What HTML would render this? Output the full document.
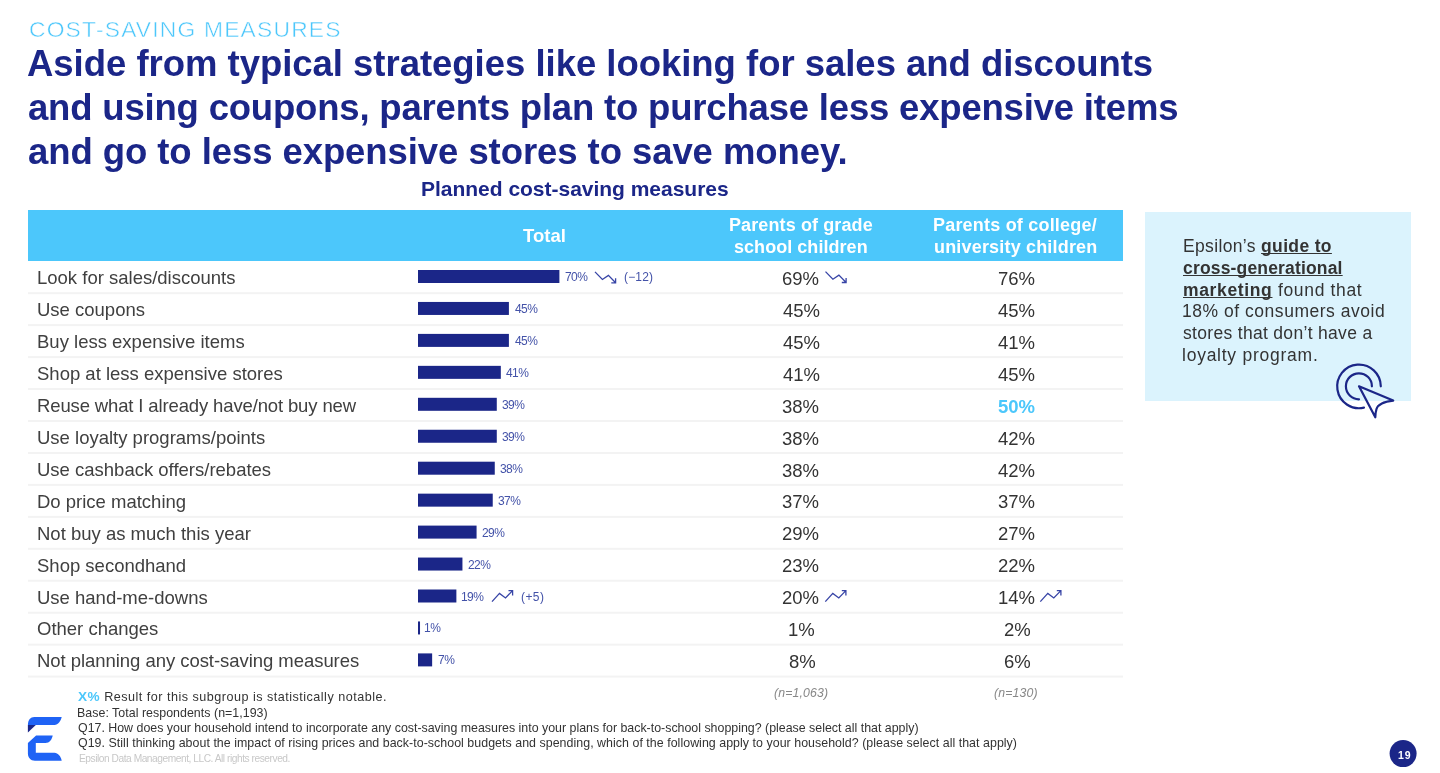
<!DOCTYPE html>
<html><head><meta charset="utf-8"><title>Cost-saving measures</title>
<style>
html,body{margin:0;padding:0;background:#fff;}
body{width:1440px;height:773px;position:relative;overflow:hidden;font-family:"Liberation Sans", sans-serif;}
.t{position:absolute;white-space:nowrap;will-change:transform;}
.t u{text-decoration-thickness:1.4px;text-underline-offset:0.7px;text-decoration-skip-ink:none;}
.bm{display:inline-block;width:0;height:0;vertical-align:baseline;}
svg{position:absolute;left:0;top:0;}
</style></head><body>
<div style="position:absolute;left:28px;top:210px;width:1095px;height:51px;background:#4cc7fb;"></div>
<div style="position:absolute;left:1145px;top:212px;width:266px;height:189px;background:#dbf3fd;"></div>
<svg width="1440" height="773" viewBox="0 0 1440 773">
<rect x="418" y="270.00" width="141.40" height="13" fill="#1b2688"/>
<rect x="418" y="301.95" width="90.90" height="13" fill="#1b2688"/>
<rect x="418" y="333.90" width="90.90" height="13" fill="#1b2688"/>
<rect x="418" y="365.85" width="82.82" height="13" fill="#1b2688"/>
<rect x="418" y="397.80" width="78.78" height="13" fill="#1b2688"/>
<rect x="418" y="429.75" width="78.78" height="13" fill="#1b2688"/>
<rect x="418" y="461.70" width="76.76" height="13" fill="#1b2688"/>
<rect x="418" y="493.65" width="74.74" height="13" fill="#1b2688"/>
<rect x="418" y="525.60" width="58.58" height="13" fill="#1b2688"/>
<rect x="418" y="557.55" width="44.44" height="13" fill="#1b2688"/>
<rect x="418" y="589.50" width="38.38" height="13" fill="#1b2688"/>
<rect x="418" y="621.45" width="2.02" height="13" fill="#1b2688"/>
<rect x="418" y="653.40" width="14.14" height="13" fill="#1b2688"/>
<rect x="28" y="292.20" width="1095" height="2" fill="#f3f3f3"/>
<rect x="28" y="324.15" width="1095" height="2" fill="#f3f3f3"/>
<rect x="28" y="356.10" width="1095" height="2" fill="#f3f3f3"/>
<rect x="28" y="388.05" width="1095" height="2" fill="#f3f3f3"/>
<rect x="28" y="420.00" width="1095" height="2" fill="#f3f3f3"/>
<rect x="28" y="451.95" width="1095" height="2" fill="#f3f3f3"/>
<rect x="28" y="483.90" width="1095" height="2" fill="#f3f3f3"/>
<rect x="28" y="515.85" width="1095" height="2" fill="#f3f3f3"/>
<rect x="28" y="547.80" width="1095" height="2" fill="#f3f3f3"/>
<rect x="28" y="579.75" width="1095" height="2" fill="#f3f3f3"/>
<rect x="28" y="611.70" width="1095" height="2" fill="#f3f3f3"/>
<rect x="28" y="643.65" width="1095" height="2" fill="#f3f3f3"/>
<rect x="28" y="675.60" width="1095" height="2" fill="#f3f3f3"/>
<path d="M595.00 271.90 L602.40 279.50 L608.40 275.40 L615.60 282.80 M615.60 278.20 L615.60 282.80 L611.30 282.80" fill="none" stroke="#3744a6" stroke-width="1.3"/><path d="M825.50 271.60 L832.90 279.20 L838.90 275.10 L846.10 282.50 M846.10 277.90 L846.10 282.50 L841.80 282.50" fill="none" stroke="#3744a6" stroke-width="1.3"/><path d="M492.00 601.60 L499.50 593.40 L505.50 598.00 L512.60 590.60 M508.50 590.60 L512.60 590.60 L512.60 595.60" fill="none" stroke="#3744a6" stroke-width="1.3"/><path d="M825.30 601.60 L832.80 593.40 L838.80 598.00 L845.90 590.60 M841.80 590.60 L845.90 590.60 L845.90 595.60" fill="none" stroke="#3744a6" stroke-width="1.3"/><path d="M1040.30 601.60 L1047.80 593.40 L1053.80 598.00 L1060.90 590.60 M1056.80 590.60 L1060.90 590.60 L1060.90 595.60" fill="none" stroke="#3744a6" stroke-width="1.3"/>

<path d="M34.3 717.1 L61.7 717.1 C60.8 721 58 725 54.5 725 L35.8 725 L27.9 725 C27.9 720 30.5 717.1 34.3 717.1 Z" fill="#1f63f5"/>
<path d="M27.9 725 L35.8 725 L27.9 732.6 Z" fill="#1b2688"/>
<path d="M36.1 735.5 L52.7 735.5 C52 739.5 49.5 743 45.5 743 L35.8 743 L35.8 752.8 L54.5 752.8 C58 752.8 61 756.5 61.7 760.7 L35 760.7 C30.5 760.7 27.9 757.5 27.9 753.5 L27.9 743 Z" fill="#1f63f5"/>

<circle cx="1403.1" cy="753.6" r="13.5" fill="#1b2688"/>

<g fill="none" stroke="#1b2688" stroke-width="2.2" stroke-linecap="round" stroke-linejoin="round">
<path d="M1380.8 386.3 A21.8 21.8 0 1 0 1364 407.6"/>
<path d="M1371.9 386.3 A13 13 0 1 0 1359 399.3"/>
<path d="M1359 386.3 L1393.2 400.6 C1385 401.5 1378 404 1376.5 409 C1375.6 412 1375.3 414.5 1375.3 417.3 Z"/>
</g>
</svg>
<div class="t" style="left:28.60px;top:17.60px;font-size:22.8px;line-height:22.8px;font-weight:400;color:#4cc7fb;letter-spacing:1.213px;-webkit-text-stroke:0.5px #fff;">COST-SAVING MEASURES<i class="bm"></i></div>
<div class="t" style="left:27.00px;top:46.00px;font-size:36.5px;line-height:36.5px;font-weight:700;color:#1b2688;letter-spacing:-0.025px;">Aside from typical strategies like looking for sales and discounts<i class="bm"></i></div>
<div class="t" style="left:28.40px;top:90.00px;font-size:36.5px;line-height:36.5px;font-weight:700;color:#1b2688;letter-spacing:-0.187px;">and using coupons, parents plan to purchase less expensive items<i class="bm"></i></div>
<div class="t" style="left:28.40px;top:133.50px;font-size:36.5px;line-height:36.5px;font-weight:700;color:#1b2688;letter-spacing:-0.073px;">and go to less expensive stores to save money.<i class="bm"></i></div>
<div class="t" style="left:420.60px;top:178.00px;font-size:21px;line-height:21px;font-weight:700;color:#1b2688;letter-spacing:-0.017px;">Planned cost-saving measures<i class="bm"></i></div>
<div class="t" style="left:523.29px;top:227.25px;font-size:18.5px;line-height:18.5px;font-weight:700;color:#fff;letter-spacing:0.025px;">Total<i class="bm"></i></div>
<div class="t" style="left:729.28px;top:216.30px;font-size:18px;line-height:18px;font-weight:700;color:#fff;letter-spacing:0.107px;">Parents of grade<i class="bm"></i></div>
<div class="t" style="left:733.88px;top:238.00px;font-size:18px;line-height:18px;font-weight:700;color:#fff;letter-spacing:0.043px;">school children<i class="bm"></i></div>
<div class="t" style="left:932.77px;top:216.30px;font-size:18px;line-height:18px;font-weight:700;color:#fff;letter-spacing:0.200px;">Parents of college/<i class="bm"></i></div>
<div class="t" style="left:934.47px;top:237.70px;font-size:18px;line-height:18px;font-weight:700;color:#fff;letter-spacing:0.178px;">university children<i class="bm"></i></div>
<div class="t" style="left:37.00px;top:269.00px;font-size:18.5px;line-height:18.5px;font-weight:400;color:#404040;">Look for sales/discounts<i class="bm"></i></div>
<div class="t" style="left:782.48px;top:269.80px;font-size:18.5px;line-height:18.5px;font-weight:400;color:#333333;">69%<i class="bm"></i></div>
<div class="t" style="left:997.88px;top:269.80px;font-size:18.5px;line-height:18.5px;font-weight:400;color:#333333;">76%<i class="bm"></i></div>
<div class="t" style="left:564.60px;top:271.00px;font-size:12px;line-height:12px;font-weight:400;color:#4352a8;letter-spacing:-0.600px;">70%<i class="bm"></i></div>
<div class="t" style="left:37.00px;top:300.95px;font-size:18.5px;line-height:18.5px;font-weight:400;color:#404040;">Use coupons<i class="bm"></i></div>
<div class="t" style="left:782.98px;top:301.75px;font-size:18.5px;line-height:18.5px;font-weight:400;color:#333333;">45%<i class="bm"></i></div>
<div class="t" style="left:998.38px;top:301.75px;font-size:18.5px;line-height:18.5px;font-weight:400;color:#333333;">45%<i class="bm"></i></div>
<div class="t" style="left:514.60px;top:302.95px;font-size:12px;line-height:12px;font-weight:400;color:#4352a8;letter-spacing:-0.600px;">45%<i class="bm"></i></div>
<div class="t" style="left:37.00px;top:332.90px;font-size:18.5px;line-height:18.5px;font-weight:400;color:#404040;">Buy less expensive items<i class="bm"></i></div>
<div class="t" style="left:782.98px;top:333.70px;font-size:18.5px;line-height:18.5px;font-weight:400;color:#333333;">45%<i class="bm"></i></div>
<div class="t" style="left:998.38px;top:333.70px;font-size:18.5px;line-height:18.5px;font-weight:400;color:#333333;">41%<i class="bm"></i></div>
<div class="t" style="left:514.60px;top:334.90px;font-size:12px;line-height:12px;font-weight:400;color:#4352a8;letter-spacing:-0.600px;">45%<i class="bm"></i></div>
<div class="t" style="left:37.00px;top:364.85px;font-size:18.5px;line-height:18.5px;font-weight:400;color:#404040;">Shop at less expensive stores<i class="bm"></i></div>
<div class="t" style="left:782.98px;top:365.65px;font-size:18.5px;line-height:18.5px;font-weight:400;color:#333333;">41%<i class="bm"></i></div>
<div class="t" style="left:998.38px;top:365.65px;font-size:18.5px;line-height:18.5px;font-weight:400;color:#333333;">45%<i class="bm"></i></div>
<div class="t" style="left:506.28px;top:366.85px;font-size:12px;line-height:12px;font-weight:400;color:#4352a8;letter-spacing:-0.600px;">41%<i class="bm"></i></div>
<div class="t" style="left:37.00px;top:396.80px;font-size:18.5px;line-height:18.5px;font-weight:400;color:#404040;letter-spacing:-0.136px;">Reuse what I already have/not buy new<i class="bm"></i></div>
<div class="t" style="left:782.48px;top:397.60px;font-size:18.5px;line-height:18.5px;font-weight:400;color:#333333;">38%<i class="bm"></i></div>
<div class="t" style="left:997.88px;top:397.60px;font-size:18.5px;line-height:18.5px;font-weight:700;color:#4cc7fb;">50%<i class="bm"></i></div>
<div class="t" style="left:502.12px;top:398.80px;font-size:12px;line-height:12px;font-weight:400;color:#4352a8;letter-spacing:-0.600px;">39%<i class="bm"></i></div>
<div class="t" style="left:37.00px;top:428.75px;font-size:18.5px;line-height:18.5px;font-weight:400;color:#404040;">Use loyalty programs/points<i class="bm"></i></div>
<div class="t" style="left:782.48px;top:429.55px;font-size:18.5px;line-height:18.5px;font-weight:400;color:#333333;">38%<i class="bm"></i></div>
<div class="t" style="left:998.38px;top:429.55px;font-size:18.5px;line-height:18.5px;font-weight:400;color:#333333;">42%<i class="bm"></i></div>
<div class="t" style="left:502.12px;top:430.75px;font-size:12px;line-height:12px;font-weight:400;color:#4352a8;letter-spacing:-0.600px;">39%<i class="bm"></i></div>
<div class="t" style="left:37.00px;top:460.70px;font-size:18.5px;line-height:18.5px;font-weight:400;color:#404040;">Use cashback offers/rebates<i class="bm"></i></div>
<div class="t" style="left:782.48px;top:461.50px;font-size:18.5px;line-height:18.5px;font-weight:400;color:#333333;">38%<i class="bm"></i></div>
<div class="t" style="left:998.38px;top:461.50px;font-size:18.5px;line-height:18.5px;font-weight:400;color:#333333;">42%<i class="bm"></i></div>
<div class="t" style="left:500.04px;top:462.70px;font-size:12px;line-height:12px;font-weight:400;color:#4352a8;letter-spacing:-0.600px;">38%<i class="bm"></i></div>
<div class="t" style="left:37.00px;top:492.65px;font-size:18.5px;line-height:18.5px;font-weight:400;color:#404040;">Do price matching<i class="bm"></i></div>
<div class="t" style="left:782.48px;top:493.45px;font-size:18.5px;line-height:18.5px;font-weight:400;color:#333333;">37%<i class="bm"></i></div>
<div class="t" style="left:997.88px;top:493.45px;font-size:18.5px;line-height:18.5px;font-weight:400;color:#333333;">37%<i class="bm"></i></div>
<div class="t" style="left:497.96px;top:494.65px;font-size:12px;line-height:12px;font-weight:400;color:#4352a8;letter-spacing:-0.600px;">37%<i class="bm"></i></div>
<div class="t" style="left:37.00px;top:524.60px;font-size:18.5px;line-height:18.5px;font-weight:400;color:#404040;">Not buy as much this year<i class="bm"></i></div>
<div class="t" style="left:782.48px;top:525.40px;font-size:18.5px;line-height:18.5px;font-weight:400;color:#333333;">29%<i class="bm"></i></div>
<div class="t" style="left:997.88px;top:525.40px;font-size:18.5px;line-height:18.5px;font-weight:400;color:#333333;">27%<i class="bm"></i></div>
<div class="t" style="left:482.32px;top:526.60px;font-size:12px;line-height:12px;font-weight:400;color:#4352a8;letter-spacing:-0.600px;">29%<i class="bm"></i></div>
<div class="t" style="left:37.00px;top:556.55px;font-size:18.5px;line-height:18.5px;font-weight:400;color:#404040;">Shop secondhand<i class="bm"></i></div>
<div class="t" style="left:782.48px;top:557.35px;font-size:18.5px;line-height:18.5px;font-weight:400;color:#333333;">23%<i class="bm"></i></div>
<div class="t" style="left:997.88px;top:557.35px;font-size:18.5px;line-height:18.5px;font-weight:400;color:#333333;">22%<i class="bm"></i></div>
<div class="t" style="left:467.76px;top:558.55px;font-size:12px;line-height:12px;font-weight:400;color:#4352a8;letter-spacing:-0.600px;">22%<i class="bm"></i></div>
<div class="t" style="left:37.00px;top:588.50px;font-size:18.5px;line-height:18.5px;font-weight:400;color:#404040;">Use hand-me-downs<i class="bm"></i></div>
<div class="t" style="left:782.48px;top:589.30px;font-size:18.5px;line-height:18.5px;font-weight:400;color:#333333;">20%<i class="bm"></i></div>
<div class="t" style="left:997.88px;top:589.30px;font-size:18.5px;line-height:18.5px;font-weight:400;color:#333333;">14%<i class="bm"></i></div>
<div class="t" style="left:460.52px;top:590.50px;font-size:12px;line-height:12px;font-weight:400;color:#4352a8;letter-spacing:-0.600px;">19%<i class="bm"></i></div>
<div class="t" style="left:37.00px;top:620.45px;font-size:18.5px;line-height:18.5px;font-weight:400;color:#404040;">Other changes<i class="bm"></i></div>
<div class="t" style="left:788.12px;top:621.25px;font-size:18.5px;line-height:18.5px;font-weight:400;color:#333333;">1%<i class="bm"></i></div>
<div class="t" style="left:1003.53px;top:621.25px;font-size:18.5px;line-height:18.5px;font-weight:400;color:#333333;">2%<i class="bm"></i></div>
<div class="t" style="left:424.08px;top:622.45px;font-size:12px;line-height:12px;font-weight:400;color:#4352a8;letter-spacing:-0.400px;">1%<i class="bm"></i></div>
<div class="t" style="left:37.00px;top:652.40px;font-size:18.5px;line-height:18.5px;font-weight:400;color:#404040;letter-spacing:-0.047px;">Not planning any cost-saving measures<i class="bm"></i></div>
<div class="t" style="left:788.62px;top:653.20px;font-size:18.5px;line-height:18.5px;font-weight:400;color:#333333;">8%<i class="bm"></i></div>
<div class="t" style="left:1003.53px;top:653.20px;font-size:18.5px;line-height:18.5px;font-weight:400;color:#333333;">6%<i class="bm"></i></div>
<div class="t" style="left:437.56px;top:654.40px;font-size:12px;line-height:12px;font-weight:400;color:#4352a8;letter-spacing:-0.400px;">7%<i class="bm"></i></div>
<div class="t" style="left:624.20px;top:270.80px;font-size:12px;line-height:12px;font-weight:400;color:#4352a8;letter-spacing:0.150px;">(&minus;12)<i class="bm"></i></div>
<div class="t" style="left:520.60px;top:590.60px;font-size:12px;line-height:12px;font-weight:400;color:#4352a8;letter-spacing:0.400px;">(+5)<i class="bm"></i></div>
<div class="t" style="left:78.20px;top:691.00px;font-size:12.6px;line-height:12.6px;font-weight:400;color:#333;letter-spacing:0.490px;"><b style="color:#4cc7fb;font-size:13.6px">X%</b> Result for this subgroup is statistically notable.<i class="bm"></i></div>
<div class="t" style="left:77.20px;top:707.00px;font-size:12.4px;line-height:12.4px;font-weight:400;color:#333;letter-spacing:0.034px;">Base: Total respondents (n=1,193)<i class="bm"></i></div>
<div class="t" style="left:78.20px;top:721.60px;font-size:12.4px;line-height:12.4px;font-weight:400;color:#333;letter-spacing:-0.003px;">Q17. How does your household intend to incorporate any cost-saving measures into your plans for back-to-school shopping? (please select all that apply)<i class="bm"></i></div>
<div class="t" style="left:78.20px;top:737.00px;font-size:12.4px;line-height:12.4px;font-weight:400;color:#333;letter-spacing:0.041px;">Q19. Still thinking about the impact of rising prices and back-to-school budgets and spending, which of the following apply to your household? (please select all that apply)<i class="bm"></i></div>
<div class="t" style="left:79.20px;top:754.00px;font-size:10.2px;line-height:10.2px;font-weight:400;color:#c8c8c8;letter-spacing:-0.459px;">Epsilon Data Management, LLC. All rights reserved.<i class="bm"></i></div>
<div class="t" style="left:774.01px;top:687.10px;font-size:12.3px;line-height:12.3px;font-weight:400;color:#888;letter-spacing:0.125px;font-style:italic;">(n=1,063)<i class="bm"></i></div>
<div class="t" style="left:994.33px;top:687.10px;font-size:12.3px;line-height:12.3px;font-weight:400;color:#888;letter-spacing:0.150px;font-style:italic;">(n=130)<i class="bm"></i></div>
<div class="t" style="left:1397.66px;top:749.90px;font-size:10.5px;line-height:10.5px;font-weight:700;color:#fff;letter-spacing:0.800px;">19<i class="bm"></i></div>
<div class="t" style="left:1183.00px;top:238.20px;font-size:17.5px;line-height:17.5px;font-weight:400;color:#333;letter-spacing:0.347px;">Epsilon&rsquo;s <b><u>guide to</u></b><i class="bm"></i></div>
<div class="t" style="left:1182.80px;top:259.86px;font-size:17.5px;line-height:17.5px;font-weight:400;color:#333;letter-spacing:0.171px;"><b><u>cross-generational</u></b><i class="bm"></i></div>
<div class="t" style="left:1182.80px;top:281.52px;font-size:17.5px;line-height:17.5px;font-weight:400;color:#333;letter-spacing:0.647px;"><b><u>marketing</u></b> found that<i class="bm"></i></div>
<div class="t" style="left:1181.80px;top:303.18px;font-size:17.5px;line-height:17.5px;font-weight:400;color:#333;letter-spacing:0.529px;">18% of consumers avoid<i class="bm"></i></div>
<div class="t" style="left:1182.80px;top:324.84px;font-size:17.5px;line-height:17.5px;font-weight:400;color:#333;letter-spacing:0.313px;">stores that don&rsquo;t have a<i class="bm"></i></div>
<div class="t" style="left:1181.80px;top:346.50px;font-size:17.5px;line-height:17.5px;font-weight:400;color:#333;letter-spacing:0.753px;">loyalty program.<i class="bm"></i></div>
</body></html>
